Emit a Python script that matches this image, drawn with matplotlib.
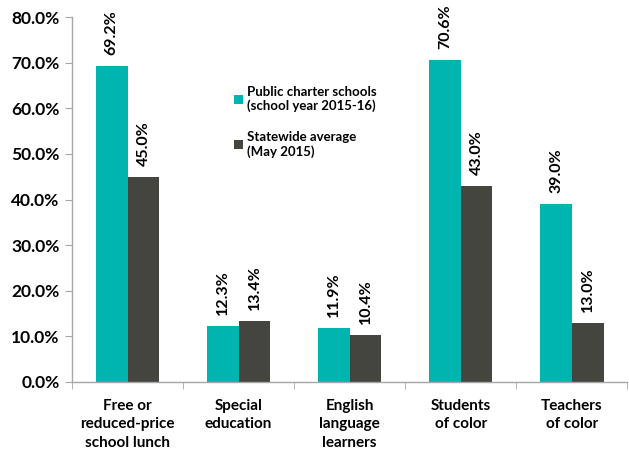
import numpy as np
import matplotlib.pyplot as plt
from matplotlib.ticker import FuncFormatter, FixedLocator

categories = ["Free or\nreduced-price\nschool lunch", "Special\neducation",
              "English\nlanguage\nlearners", "Students\nof color", "Teachers\nof color"]
charter = [69.2, 12.3, 11.9, 70.6, 39.0]
statewide = [45.0, 13.4, 10.4, 43.0, 13.0]
series_names = ["Public charter schools\n(school year 2015-16)",
                "Statewide average\n(May 2015)"]

TEAL = "#00B5AF"
DARK = "#454540"
AXIS = "#A6A6A6"

plt.rcParams['font.family'] = ['Lato', 'DejaVu Sans']
plt.rcParams['font.weight'] = 'bold'

fig = plt.figure(figsize=(6.29, 4.51), dpi=100)
ax = fig.add_axes([0.1145, 0.153, 0.883, 0.809])

x = np.arange(len(categories))
w = 0.285
b1 = ax.bar(x - w / 2, charter, w, color=TEAL, label=series_names[0])
b2 = ax.bar(x + w / 2, statewide, w, color=DARK, label=series_names[1])

for bars, vals in ((b1, charter), (b2, statewide)):
    for rect, v in zip(bars, vals):
        ax.text(rect.get_x() + rect.get_width() / 2, v + 2.4, f"{v:.1f}%",
                rotation=90, ha='center', va='bottom', fontsize=11.5,
                fontweight='bold', color='black')

ax.set_xlim(-0.5, len(categories) - 0.5)
ax.set_ylim(0, 80)
ax.set_yticks(np.arange(0, 81, 10))
ax.yaxis.set_major_formatter(FuncFormatter(lambda v, p: f"{v:.1f}%"))
ax.set_xticks(x)
ax.set_xticklabels(categories, fontsize=11, fontweight='bold', linespacing=1.42)
ax.xaxis.set_minor_locator(FixedLocator(np.arange(-0.5, len(categories), 1.0)))
ax.tick_params(axis='x', which='major', length=0, pad=12)
ax.tick_params(axis='x', which='minor', length=5, color=AXIS, direction='out')
ax.tick_params(axis='y', length=5, color=AXIS, labelsize=12.5, pad=4)
for lbl in ax.get_yticklabels():
    lbl.set_fontweight('bold')

for s in ('top', 'right'):
    ax.spines[s].set_visible(False)
for s in ('left', 'bottom'):
    ax.spines[s].set_color(AXIS)
    ax.spines[s].set_linewidth(1.0)

ax.legend(loc='upper left', bbox_to_anchor=(0.27, 0.845), frameon=False,
          prop={'size': 9.5, 'weight': 'bold'}, handlelength=0.7, handleheight=0.7,
          handletextpad=0.3, labelspacing=1.4)

fig.savefig("out.png", dpi=100)
